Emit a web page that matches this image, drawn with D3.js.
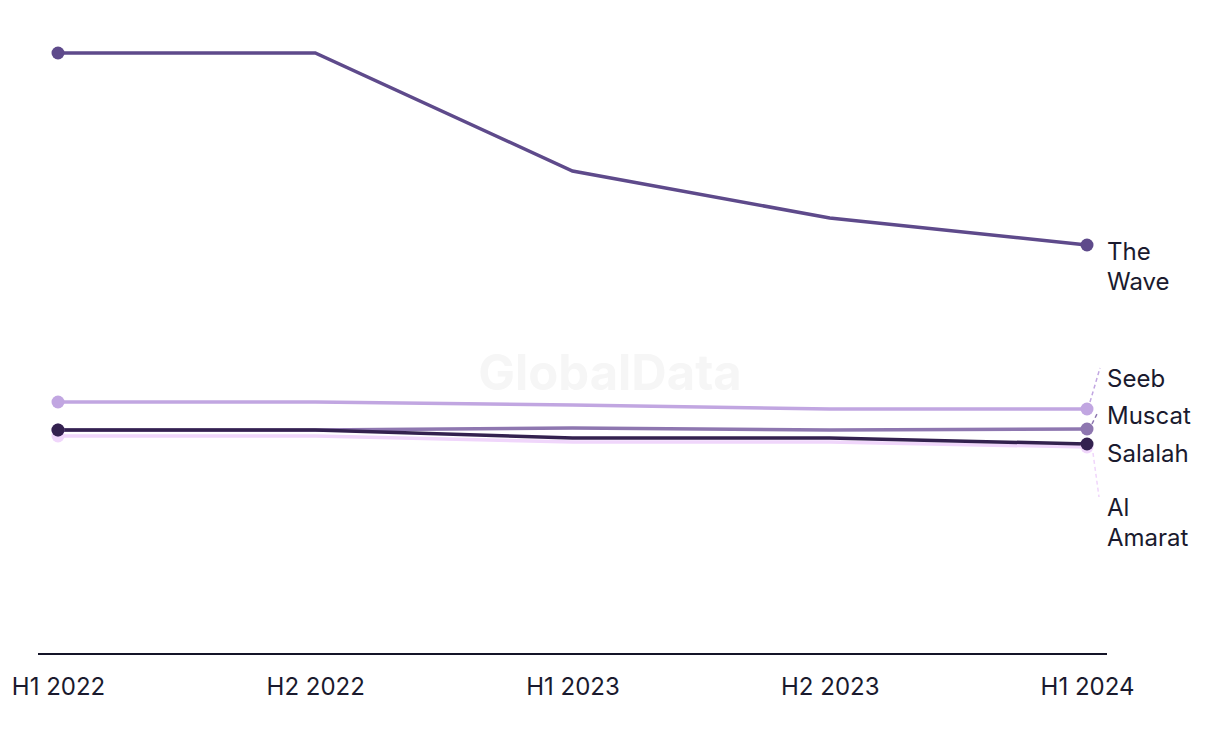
<!DOCTYPE html>
<html><head><meta charset="utf-8">
<script src="https://cdn.jsdelivr.net/npm/d3@7"></script>
<style>body{margin:0;background:#fff}svg{display:block}</style>
</head><body><svg id="c" width="1220" height="744"></svg>
<script>
const periods = ["H1 2022","H2 2022","H1 2023","H2 2023","H1 2024"];
const theWave = [120.2,120.2,96.6,87.2,81.8];
const seeb = [50.4,50.4,49.8,49.0,49.0];
const muscat = [44.8,44.8,45.2,44.8,45.0];
const salalah = [44.8,44.8,43.2,43.2,42.0];
const alAmarat = [43.6,43.6,42.4,42.4,41.4];

const series = [
  {name:["Al","Amarat"], values:alAmarat, color:"#f0d6fb", labelY:508, lead:[[1093,453],[1099,497]]},
  {name:["Muscat"], values:muscat, color:"#8e77b0", labelY:416, lead:[[1092,424],[1098,412]]},
  {name:["Salalah"], values:salalah, color:"#33214f", labelY:454, lead:null},
  {name:["Seeb"], values:seeb, color:"#c1a6e1", labelY:379, lead:[[1090,402],[1100,368]]},
  {name:["The","Wave"], values:theWave, color:"#5e4a8b", labelY:252, lead:null}
];

const FONT = "Inter, 'Liberation Sans', sans-serif";
const svg = d3.select("#c");
const x = d3.scalePoint().domain(periods).range([58,1087]);
const y = d3.scaleLinear().domain([0,130]).range([654,4]);

svg.append("text").attr("x",610).attr("y",390).attr("text-anchor","middle")
  .attr("font-family",FONT).attr("font-weight",700)
  .attr("font-size",49).attr("fill","#f6f6f6").text("GlobalData");

const xAxis = d3.axisBottom(x).tickSize(0).tickPadding(24);
const gx = svg.append("g").attr("transform","translate(0,654)").call(xAxis);
gx.select(".domain").remove();
gx.append("line").attr("x1",38).attr("x2",1107).attr("y1",0).attr("y2",0).attr("stroke","#141428").attr("stroke-width",2);
gx.selectAll(".tick text").attr("font-family",FONT).attr("font-size",24).attr("fill","#1a1a2e");

const line = d3.line().x((d,i)=>x(periods[i])).y(d=>y(d));
series.forEach(s=>{
  svg.append("path").attr("d",line(s.values)).attr("fill","none").attr("stroke",s.color).attr("stroke-width",3.5);
});
series.forEach(s=>{
  svg.append("circle").attr("cx",x(periods[0])).attr("cy",y(s.values[0])).attr("r",6.5).attr("fill",s.color);
  svg.append("circle").attr("cx",x(periods[4])).attr("cy",y(s.values[4])).attr("r",6.5).attr("fill",s.color);
  if(s.lead){
    svg.append("line").attr("x1",s.lead[0][0]).attr("y1",s.lead[0][1]).attr("x2",s.lead[1][0]).attr("y2",s.lead[1][1])
      .attr("stroke",s.color).attr("stroke-width",1.5).attr("stroke-dasharray","4,3");
  }
  const t = svg.append("text").attr("x",1107).attr("y",s.labelY)
    .attr("font-family",FONT).attr("font-size",24).attr("fill","#1a1a2e");
  s.name.forEach((n,i)=>t.append("tspan").attr("x",1107).attr("dy",i===0?"0.35em":"30px").text(n));
});
</script></body></html>
